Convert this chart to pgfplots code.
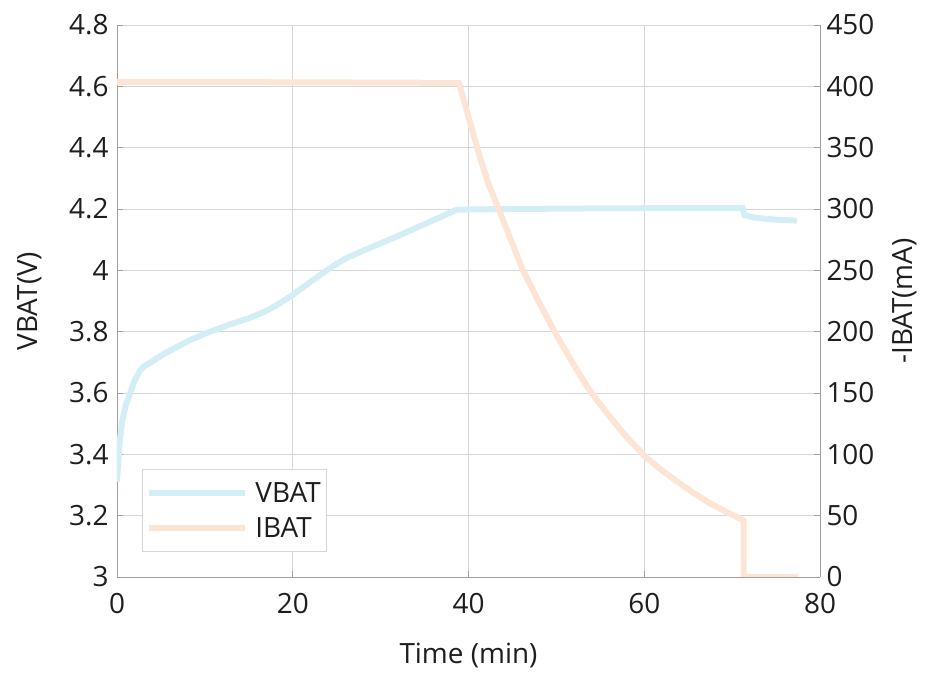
\documentclass[border=0pt]{standalone}
\usepackage{pgfplots}
\pgfplotsset{compat=1.18}
\usepackage{fontspec}
\setmainfont{Open Sans}
\definecolor{vcol}{RGB}{212,238,246}
\definecolor{icol}{RGB}{253,229,213}
\definecolor{axcol}{RGB}{160,160,160}
\definecolor{gridcol}{RGB}{214,214,214}
\definecolor{txt}{RGB}{30,30,30}
\begin{document}
\begin{tikzpicture}
\pgfplotsset{
  common/.style={
    scale only axis, width=703bp, height=552bp,
    at={(0,0)}, anchor=south west,
    xmin=0, xmax=80,
    /pgf/number format/assume math mode=true,
    tick label style={font=\fontsize{28}{33}\selectfont, text=txt},
    label style={font=\fontsize{28}{33}\selectfont, text=txt},
    tick align=inside, major tick length=6bp,
    tick style={axcol, line width=0.8bp},
    axis line style={axcol, line width=0.8bp},
  }
}
\begin{axis}[common,
  axis y line*=left, axis x line*=bottom,
  ymin=3, ymax=4.8,
  ytick={3,3.2,3.4,3.6,3.8,4,4.2,4.4,4.6,4.8},
  yticklabels={3,3.2,3.4,3.6,3.8,4,4.2,4.4,4.6,4.8},
  xtick={0,20,40,60,80},
  grid=major, major grid style={gridcol, line width=0.8bp},
  xticklabel style={yshift=-13bp},
  yticklabel style={xshift=-5bp},
  xlabel={Time (min)}, ylabel={VBAT(V)},
  xlabel style={at={(axis description cs:0.5,-0.1413)}, anchor=center},
  ylabel style={at={(axis description cs:-0.1238,0.5)}, anchor=center, rotate=0},
  legend style={at={(rel axis cs:0.0356,0.0453)}, anchor=south west,
    draw=gridcol, line width=0.8bp, fill=white,
    font=\fontsize{28}{33}\selectfont, text=txt,
    inner xsep=4bp, inner ysep=11bp, row sep=9bp,
    /tikz/every odd column/.append style={column sep=5bp},
    legend cell align=left},
  legend image code/.code={\draw[#1, line width=6bp] (0bp,0bp) -- (96bp,0bp);},
]
\addplot[vcol, line width=6bp] coordinates {
(0,3.31) (0.3,3.44) (0.6,3.51) (1.0,3.56) (1.5,3.60) (2.0,3.64) (2.6,3.672)
(3.0,3.685) (4.1,3.705) (5.5,3.73) (6.8,3.75) (8.5,3.775) (10.6,3.80) (13,3.825)
(15.1,3.845) (16.8,3.865) (18.2,3.887) (19.9,3.918) (22,3.962) (24.2,4.007)
(25.5,4.03) (26.5,4.045) (28.5,4.07) (31.4,4.105) (35.2,4.153) (38.7,4.198)
(45,4.200) (55,4.202) (65,4.203) (71.2,4.203)
(71.4,4.18) (72.5,4.172) (75,4.165) (77.4,4.162)
};
\addlegendentry{VBAT}
\addlegendimage{icol, line width=6bp}
\addlegendentry{IBAT}
\end{axis}
\begin{axis}[common,
  axis y line*=right, axis x line=none,
  ymin=0, ymax=450,
  ytick={0,50,...,450},
  yticklabel style={xshift=3bp},
  ylabel={-IBAT(mA)},
  ylabel style={at={(axis description cs:1.1209,0.5)}, anchor=center, rotate=0},
]
\addplot[icol, line width=6bp] coordinates {
(0,403.5) (20,403.3) (38.9,402.8) (40.2,370) (41.3,342) (42.4,318) (43.6,297)
(44.7,277) (46.2,250) (48.1,223) (50.1,196) (51.9,174) (53.8,152) (55.7,134)
(58.0,114) (60.3,97) (62,87) (63.7,78) (65.5,69) (67.5,60) (69.5,52.5)
(71.1,47) (71.3,46) (71.3,0) (77.5,0)
};
\end{axis}
\pgfresetboundingbox
\path[use as bounding box] (-117bp,-98bp) rectangle (813bp,577bp);
\end{tikzpicture}
\end{document}
